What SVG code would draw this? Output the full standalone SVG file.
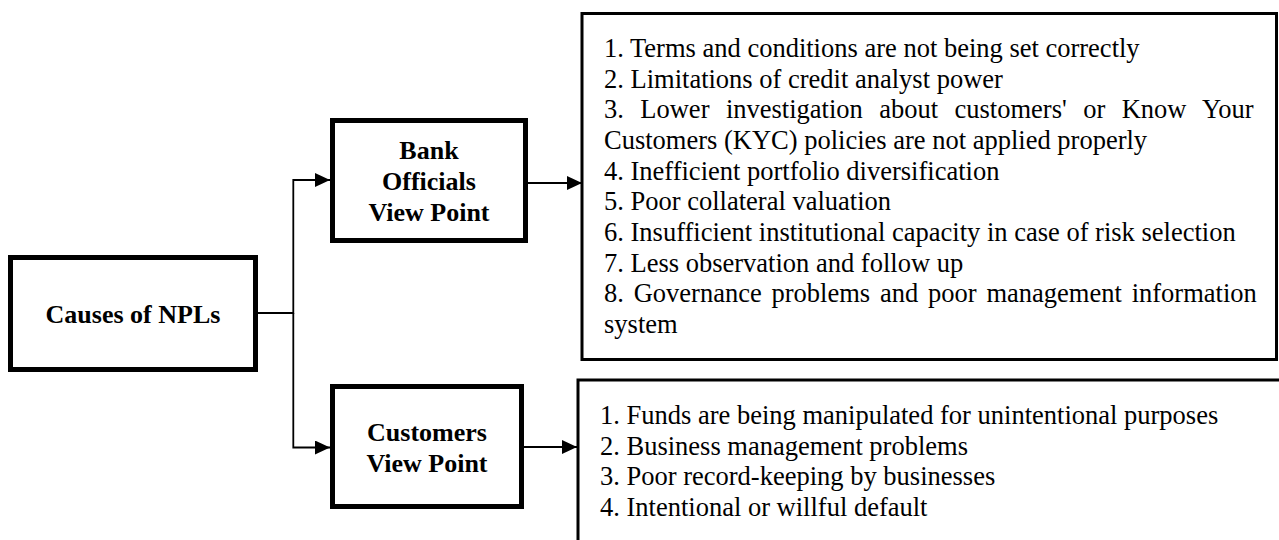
<svg xmlns="http://www.w3.org/2000/svg" width="1279" height="540" viewBox="0 0 1279 540">
  <defs>
    <marker id="arrow" markerUnits="userSpaceOnUse" markerWidth="16" markerHeight="14" refX="15" refY="7" orient="auto">
      <path d="M0,0 L15,7 L0,14 Z" fill="#000"/>
    </marker>
    <style>
      .node { fill: #fff; stroke: #000; stroke-width: 5; }
      .list { fill: #fff; stroke: #000; stroke-width: 3; }
      .title { font-family: "Liberation Serif", "Times New Roman", serif; font-weight: bold; font-size: 26px; fill: #000; text-anchor: middle; }
      .item { font-family: "Liberation Serif", "Times New Roman", serif; font-size: 26.5px; fill: #000; }
      .conn { fill: none; stroke: #000; stroke-width: 1.8; }
    </style>
  </defs>
  <rect width="1279" height="540" fill="#fff"/>

  <g id="connectors">
    <path class="conn" d="M258,313 H293.3 V180 H330" marker-end="url(#arrow)"/>
    <path class="conn" d="M293.3,313 V447.5 H330" marker-end="url(#arrow)"/>
    <path class="conn" d="M528,183 H582" marker-end="url(#arrow)"/>
    <path class="conn" d="M524,447 H577" marker-end="url(#arrow)"/>
  </g>

  <g id="causes">
    <rect class="node" x="10.5" y="257.5" width="245" height="112"/>
    <text class="title" x="133" y="323">Causes of NPLs</text>
  </g>

  <g id="bank">
    <rect class="node" x="332.5" y="120.5" width="193" height="120"/>
    <text class="title" x="429" y="159">Bank</text>
    <text class="title" x="429" y="190">Officials</text>
    <text class="title" x="429" y="221">View Point</text>
  </g>

  <g id="customers">
    <rect class="node" x="332.5" y="386.5" width="189" height="120"/>
    <text class="title" x="427" y="441">Customers</text>
    <text class="title" x="427" y="472">View Point</text>
  </g>

  <g id="bank-causes">
    <rect class="list" x="582" y="13.5" width="694.5" height="346"/>
    <text class="item" x="604" y="57">1. Terms and conditions are not being set correctly</text>
    <text class="item" x="604" y="87.7">2. Limitations of credit analyst power</text>
    <text class="item" x="604" y="118.3" word-spacing="9.8">3. Lower investigation about customers' or Know Your</text>
    <text class="item" x="604" y="149">Customers (KYC) policies are not applied properly</text>
    <text class="item" x="604" y="179.7">4. Inefficient portfolio diversification</text>
    <text class="item" x="604" y="210.3">5. Poor collateral valuation</text>
    <text class="item" x="604" y="241">6. Insufficient institutional capacity in case of risk selection</text>
    <text class="item" x="604" y="271.7">7. Less observation and follow up</text>
    <text class="item" x="604" y="302.3" word-spacing="3.2">8. Governance problems and poor management information</text>
    <text class="item" x="604" y="333">system</text>
  </g>

  <g id="customer-causes">
    <rect class="list" x="578" y="380" width="720" height="180" stroke-width="3.5"/>
    <text class="item" x="600" y="424">1. Funds are being manipulated for unintentional purposes</text>
    <text class="item" x="600" y="454.7">2. Business management problems</text>
    <text class="item" x="600" y="485.3">3. Poor record-keeping by businesses</text>
    <text class="item" x="600" y="516">4. Intentional or willful default</text>
  </g>
</svg>
